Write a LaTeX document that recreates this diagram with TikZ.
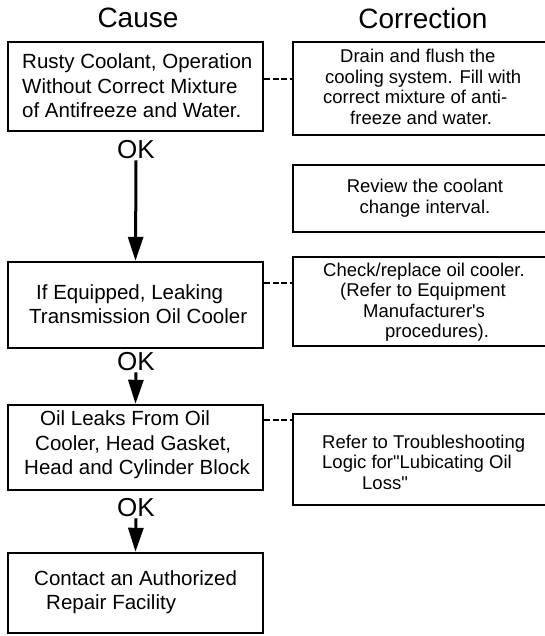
\documentclass[tikz,border=0pt]{standalone}
\usepackage{fontspec}
\setmainfont{Liberation Sans}
\usetikzlibrary{arrows.meta}
\begin{document}
\begin{tikzpicture}[x=1pt,y=-1pt,
  causebox/.style={draw, line width=2.4pt, minimum width=255pt, inner sep=0pt},
  corrbox/.style={draw, line width=2pt, minimum width=262pt, inner sep=0pt},
  causetext/.style={font=\fontsize{20.5}{24.5}\selectfont, align=left, inner sep=0pt, anchor=west},
  corrtext/.style={font=\fontsize{18.5}{20.5}\selectfont, align=left, inner sep=0pt, anchor=west},
  title/.style={font=\fontsize{28}{30}\selectfont, inner sep=0pt},
  oklabel/.style={font=\fontsize{26}{28}\selectfont, inner sep=1pt},
  flow/.style={line width=3pt, -{Triangle[length=24pt,width=15pt]}},
  link/.style={line width=1.6pt, dash pattern=on 6pt off 2.5pt}
]
\useasboundingbox (0,0) rectangle (545,636);
\clip (0,0) rectangle (545,636);

\node[title] (tcause) at (138,18) {Cause};
\node[title] (tcorr) at (423,18) {Correction};

% cause boxes
\node[causebox, minimum height=89pt] (b1) at (135.5,86.5) {};
\node[causebox, minimum height=86pt] (b2) at (135.5,305) {};
\node[causebox, minimum height=85pt] (b3) at (135.5,447.5) {};
\node[causebox, minimum height=80pt] (b4) at (135.5,593) {};

% correction boxes
\node[corrbox, minimum height=93pt] (c1) at (424,88.5) {};
\node[corrbox, minimum height=67pt] (c2) at (424,198.5) {};
\node[corrbox, minimum height=89pt] (c3) at (424,301.5) {};
\node[corrbox, minimum height=91pt] (c4) at (424,459.5) {};

% cause texts
\node[causetext] (b1t) at (22,86) {Rusty Coolant, Operation\\Without Correct Mixture\\of Antifreeze and Water.};
\node[causetext] (b2t) at (29,304) {\hspace*{7pt}If Equipped, Leaking\\Transmission Oil Cooler};
\node[causetext] (b3t) at (24,445) {\hspace*{16pt}Oil Leaks From Oil\\\hspace*{11pt}Cooler, Head Gasket,\\Head and Cylinder Block};
\node[causetext] (b4t) at (34,592) {Contact an Authorized\\\hspace*{12pt}Repair Facility};

% correction texts
\node[corrtext] (c1t) at (323,87) {\hspace*{17pt}Drain and flush the\\\hspace*{2pt}cooling system. Fill with\\correct mixture of anti-\\\hspace*{27pt}freeze and water.};
\node[corrtext, anchor=center, align=center] (c2t) at (425,198) {Review the coolant\\change interval.};
\node[corrtext] (c3t) at (323,302) {Check/replace oil cooler.\\\hspace*{17pt}(Refer to Equipment\\\hspace*{40pt}Manufacturer\textquotesingle s\\\hspace*{62pt}procedures).};
\node[corrtext] (c4t) at (322,462) {Refer to Troubleshooting\\Logic for\textquotedbl Lubicating Oil\\\hspace*{40pt}Loss\textquotedbl};

% OK labels
\node[oklabel] (ok1) at (136,150) {OK};
\node[oklabel] (ok2) at (136,362) {OK};
\node[oklabel] (ok3) at (136,508) {OK};

% flow arrows
\draw[flow] (ok1.south) -- (b2.north);
\draw[flow] (ok2.south) -- (b3.north);
\draw[flow] (ok3.south) -- (b4.north);

% dashed links
\draw[link] (b1.east |- 0,79) -- (c1.west |- 0,79);
\draw[link] (b2.east |- 0,283) -- (c3.west |- 0,283);
\draw[link] (b3.east |- 0,420) -- (c4.west |- 0,420);
\end{tikzpicture}
\end{document}
